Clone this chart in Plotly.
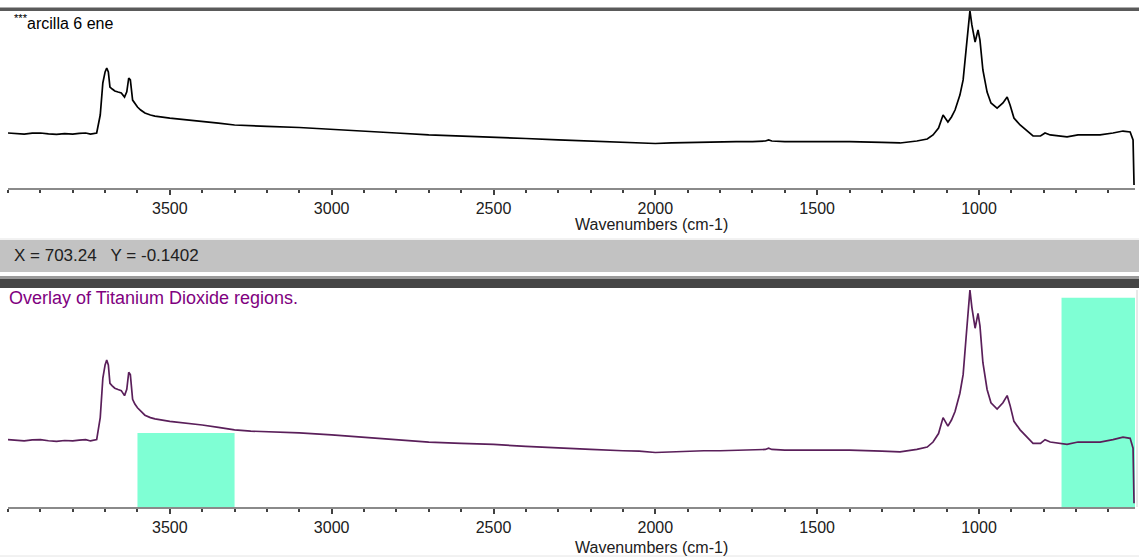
import plotly.graph_objects as go

# ---- data (wavenumber, cm-1) and absorbance (arbitrary units) ----
wavenumbers = [4000, 3975, 3950, 3925, 3900, 3875, 3850, 3825, 3800, 3780, 3760, 3745, 3735, 3726,
               3715, 3707, 3700, 3695, 3690, 3685, 3678, 3670, 3660, 3650, 3640, 3633, 3627,
               3622, 3615, 3608, 3600, 3590, 3577, 3560, 3546, 3500, 3450, 3400, 3350, 3300,
               3250, 3200, 3100, 3000, 2900, 2800, 2700, 2600, 2500, 2400, 2300, 2200, 2100,
               2050, 2000, 1950, 1900, 1850, 1800, 1750, 1700, 1660, 1650, 1640, 1600, 1500,
               1400, 1300, 1244, 1192, 1160, 1142, 1125, 1111, 1096, 1085, 1074, 1059, 1049,
               1040, 1031, 1028, 1022, 1012, 1003, 997, 988, 975, 963, 944, 926, 913, 904,
               892, 873, 842, 833, 810, 796, 780, 750, 728, 694, 660, 626, 586, 555, 533,
               524, 521]
absorbance = [0.309, 0.305, 0.303, 0.308, 0.309, 0.304, 0.301, 0.305, 0.303, 0.307, 0.309, 0.303,
              0.306, 0.309, 0.410, 0.590, 0.652, 0.674, 0.652, 0.567, 0.556, 0.545, 0.539,
              0.534, 0.511, 0.540, 0.618, 0.607, 0.494, 0.472, 0.455, 0.438, 0.421, 0.410,
              0.404, 0.393, 0.385, 0.376, 0.365, 0.354, 0.348, 0.346, 0.340, 0.331, 0.320,
              0.309, 0.298, 0.292, 0.287, 0.278, 0.270, 0.264, 0.258, 0.256, 0.250, 0.253,
              0.256, 0.258, 0.258, 0.261, 0.261, 0.264, 0.270, 0.264, 0.261, 0.261, 0.261,
              0.256, 0.253, 0.264, 0.275, 0.298, 0.337, 0.410, 0.371, 0.399, 0.438, 0.522,
              0.607, 0.775, 0.972, 0.995, 0.916, 0.820, 0.888, 0.831, 0.663, 0.539, 0.478,
              0.449, 0.478, 0.511, 0.466, 0.393, 0.354, 0.309, 0.292, 0.292, 0.309, 0.298,
              0.292, 0.287, 0.298, 0.298, 0.298, 0.309, 0.320, 0.315, 0.270, 0.017]

x_ticks = [3500, 3000, 2500, 2000, 1500, 1000]
x_range = [4000, 518]
y_range = [0.0, 1.0]

# highlighted TiO2 regions: (start, end, height)
region_starts = [3600, 745]
region_ends = [3300, 518]
region_tops = [0.34, 0.96]

top_title = "<sup>***</sup>arcilla 6 ene"
bottom_title = "Overlay of Titanium Dioxide regions."
readout = "X = 703.24   Y = -0.1402"
x_title = "Wavenumbers (cm-1)"

W, H = 1139, 558
FONT = "Liberation Sans, Arial, sans-serif"


def py(px):
    return 1 - px / H


def pxx(px):
    return px / W


fig = go.Figure()
fig.add_trace(go.Scatter(x=wavenumbers, y=absorbance, mode="lines",
                         line=dict(color="#000000", width=1.7), xaxis="x", yaxis="y",
                         hoverinfo="skip", showlegend=False))
fig.add_trace(go.Scatter(x=wavenumbers, y=absorbance, mode="lines",
                         line=dict(color="#5a1f5a", width=1.7), xaxis="x2", yaxis="y2",
                         hoverinfo="skip", showlegend=False))

xd = [pxx(8), pxx(1135)]
axis_common = dict(range=x_range, tickvals=x_ticks, ticks="outside", ticklen=5, tickwidth=1.5,
                   tickcolor="#404040", showline=True, linecolor="#8a8a8a", linewidth=2,
                   showgrid=False, zeroline=False, tickfont=dict(family=FONT, size=16, color="#202020"),
                   minor=dict(dtick=100, ticks="outside", ticklen=3, tickwidth=1.5, tickcolor="#404040"),
                   domain=xd)
yaxis_common = dict(range=y_range, showticklabels=False, showgrid=False, zeroline=False,
                    showline=False, ticks="")

fig.update_layout(
    width=W, height=H, margin=dict(l=0, r=0, t=0, b=0),
    paper_bgcolor="white", plot_bgcolor="white",
    xaxis=dict(**axis_common, anchor="y"),
    yaxis=dict(**yaxis_common, domain=[py(188), py(10)], anchor="x"),
    xaxis2=dict(**axis_common, anchor="y2"),
    yaxis2=dict(**yaxis_common, domain=[py(507), py(289)], anchor="x2"),
)

shapes = []
for s, e, t in zip(region_starts, region_ends, region_tops):
    shapes.append(dict(type="rect", xref="x2", yref="y2", x0=s, x1=e, y0=0, y1=t,
                       fillcolor="#7fffd4", line=dict(width=0), layer="below"))
# top border
shapes.append(dict(type="rect", xref="paper", yref="paper", x0=0, x1=1, y0=py(11), y1=py(7.5),
                   fillcolor="#5a5a5a", line=dict(width=0)))
# readout bar
shapes.append(dict(type="rect", xref="paper", yref="paper", x0=0, x1=1, y0=py(272), y1=py(240),
                   fillcolor="#c2c2c2", line=dict(width=0)))
shapes.append(dict(type="rect", xref="paper", yref="paper", x0=0, x1=1, y0=py(279), y1=py(276),
                   fillcolor="#9a9a9a", line=dict(width=0)))
shapes.append(dict(type="rect", xref="paper", yref="paper", x0=0, x1=1, y0=py(288), y1=py(279),
                   fillcolor="#454545", line=dict(width=0)))
shapes.append(dict(type="line", xref="paper", yref="paper", x0=0, x1=1, y0=py(239), y1=py(239),
                   line=dict(color="#e4e4e4", width=1)))
shapes.append(dict(type="line", xref="paper", yref="paper", x0=0, x1=1, y0=py(556), y1=py(556),
                   line=dict(color="#e4e4e4", width=1)))
# faint right frame of the lower panel
shapes.append(dict(type="line", xref="paper", yref="paper", x0=pxx(1137), x1=pxx(1137),
                   y0=py(507), y1=py(290), line=dict(color="#d0d0d0", width=1)))
fig.update_layout(shapes=shapes)

annotations = [
    dict(text=top_title, x=pxx(12), y=py(22), xanchor="left", yanchor="middle",
         font=dict(family=FONT, size=16, color="#000000")),
    dict(text=readout, x=pxx(12), y=py(255), xanchor="left", yanchor="middle",
         font=dict(family=FONT, size=17, color="#202020")),
    dict(text=bottom_title, x=pxx(7), y=py(298), xanchor="left", yanchor="middle",
         font=dict(family=FONT, size=18, color="#800080")),
    dict(text=x_title, x=pxx(651), y=py(224), xanchor="center", yanchor="middle",
         font=dict(family=FONT, size=16, color="#202020")),
    dict(text=x_title, x=pxx(651), y=py(547), xanchor="center", yanchor="middle",
         font=dict(family=FONT, size=16, color="#202020")),
]
for a in annotations:
    a.update(xref="paper", yref="paper", showarrow=False)
fig.update_layout(annotations=annotations)

# remove the page's default body margin so the figure fills the window exactly
fig.write_html("out.html", config={"displayModeBar": False},
               post_script="document.body.style.margin='0';document.body.style.overflow='hidden';")
